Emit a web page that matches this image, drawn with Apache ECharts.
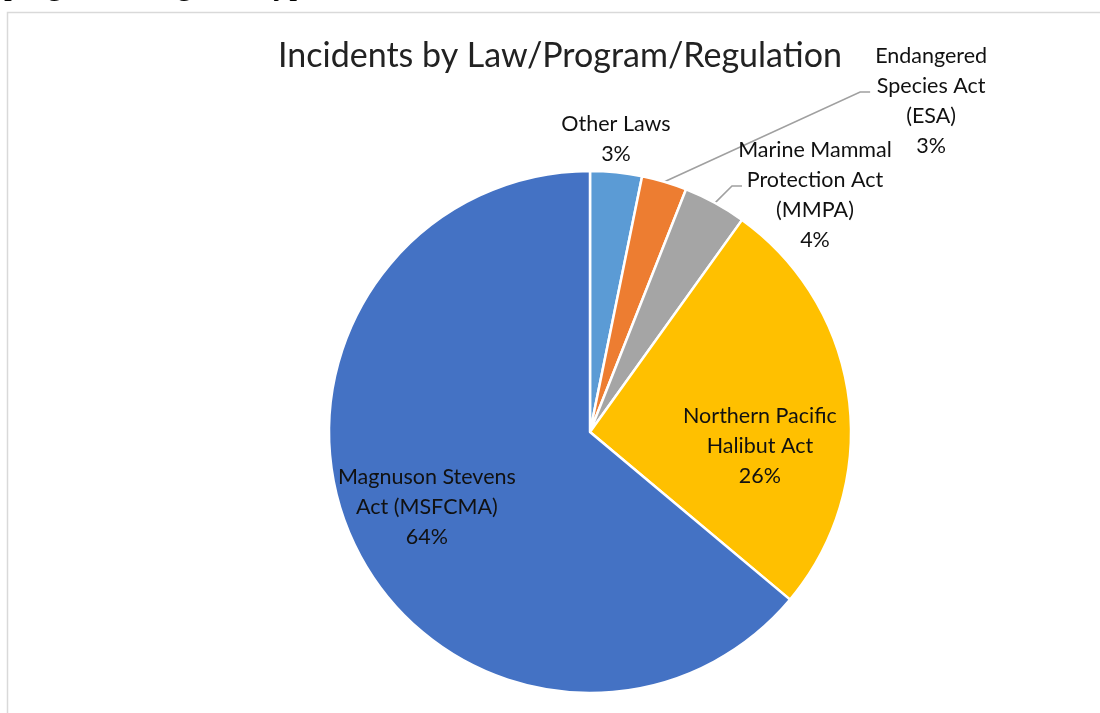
<!DOCTYPE html>
<html>
<head>
<meta charset="utf-8">
<style>
  html, body { margin: 0; padding: 0; background: #ffffff; }
  #chart { width: 1100px; height: 713px; }
</style>
<script src="https://cdn.jsdelivr.net/npm/echarts@6/dist/echarts.min.js"></script>
</head>
<body>
<div id="chart"></div>
<script>
// ---- data ----
const categories = [
  'Other Laws',
  'Endangered Species Act (ESA)',
  'Marine Mammal Protection Act (MMPA)',
  'Northern Pacific Halibut Act',
  'Magnuson Stevens Act (MSFCMA)'
];
const labelLines = [
  ['Other Laws'],
  ['Endangered', 'Species Act', '(ESA)'],
  ['Marine Mammal', 'Protection Act', '(MMPA)'],
  ['Northern Pacific', 'Halibut Act'],
  ['Magnuson Stevens', 'Act (MSFCMA)']
];
const shares = [3.2, 2.8, 3.9, 26.2, 63.9];
const colors = ['#5B9BD5', '#ED7D31', '#A5A5A5', '#FFC000', '#4472C4'];
const titleText = 'Incidents by Law/Program/Regulation';
const fragmentText = 'program, integrated type';

// ---- layout (style) ----
const CX = 590, CY = 432, R = 261;
const FONT = 'Lato';
// label anchors relative to pie centre, in units of radius
const spots = [[0.0996, -1.123], [1.307, -1.268], [0.862, -0.908], [0.651, 0.054], [-0.625, 0.287]];
// leader lines: [elbow dx, elbow dy, end dx, end dy] relative to label anchor
const leaders = [null, [-71, -9, -61, -9], [-83, -9, -73, -9], null, null];

const total = shares.reduce((a, b) => a + b, 0);
function midAngle(i) {
  let before = 0;
  for (let k = 0; k < i; k++) before += shares[k];
  return (before + shares[i] / 2) / total * 2 * Math.PI;
}

const chart = echarts.init(document.getElementById('chart'), null, { renderer: 'canvas' });
chart.setOption({
  animation: false,
  backgroundColor: '#ffffff',
  graphic: [
    {
      type: 'rect', z: -10, silent: true,
      shape: { x: 7.5, y: 12.5, width: 1300, height: 900 },
      style: { fill: '#ffffff', stroke: '#d9d9d9', lineWidth: 1.5 }
    },
    {
      type: 'text', silent: true,
      style: {
        text: fragmentText, x: 4, y: 2, textAlign: 'left', textVerticalAlign: 'bottom',
        fontFamily: 'Liberation Serif', fontSize: 32, fill: '#000000'
      }
    },
    {
      type: 'text', silent: true,
      style: {
        text: titleText, x: 560, y: 56, textAlign: 'center', textVerticalAlign: 'middle',
        fontFamily: FONT, fontSize: 34, fill: '#222222'
      }
    }
  ],
  series: [{
    type: 'pie',
    center: [CX, CY],
    radius: [0, R],
    startAngle: 90,
    clockwise: true,
    avoidLabelOverlap: false,
    percentPrecision: 0,
    itemStyle: { borderColor: '#ffffff', borderWidth: 2.5 },
    label: {
      show: true,
      position: 'outside',
      fontFamily: FONT,
      fontSize: 21.5,
      lineHeight: 30,
      color: '#111111',
      align: 'center',
      formatter: function (p) {
        return labelLines[p.dataIndex].join('\n') + '\n' + Math.round(p.value / total * 100) + '%';
      }
    },
    labelLine: { show: false, lineStyle: { color: '#a0a0a0', width: 1.6 } },
    labelLayout: function (p) {
      const i = p.dataIndex;
      const lx = CX + spots[i][0] * R;
      const ly = CY + spots[i][1] * R;
      const out = { x: lx, y: ly, align: 'center', verticalAlign: 'middle' };
      if (leaders[i]) {
        const a = midAngle(i);
        const sx = CX + R * Math.sin(a), sy = CY - R * Math.cos(a);
        const L = leaders[i];
        out.labelLinePoints = [[sx, sy], [lx + L[0], ly + L[1]], [lx + L[2], ly + L[3]]];
      }
      return out;
    },
    data: categories.map((name, i) => ({
      name: name,
      value: shares[i],
      itemStyle: { color: colors[i] },
      labelLine: { show: !!leaders[i] }
    }))
  }]
});
</script>
</body>
</html>
